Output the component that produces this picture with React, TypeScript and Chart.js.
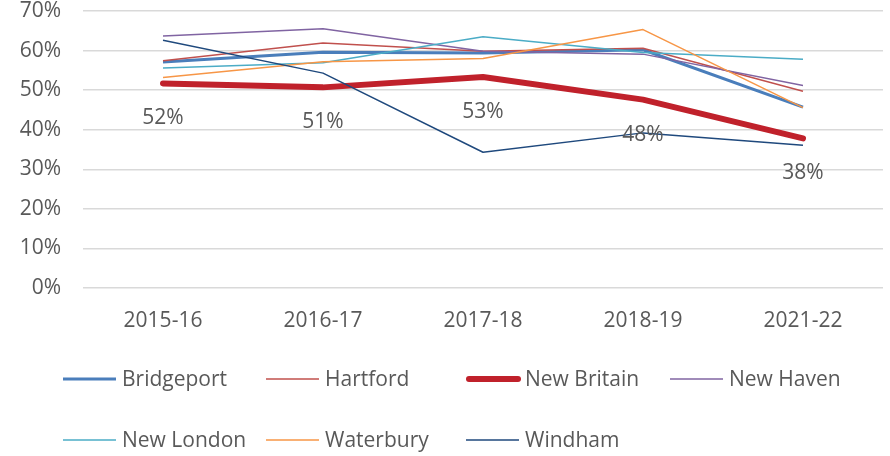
import React, { useEffect, useRef } from "react";
import { Chart, registerables } from "chart.js";

Chart.register(...registerables);

const categories = ["2015-16", "2016-17", "2017-18", "2018-19", "2021-22"];
const seriesNames = ["Bridgeport", "Hartford", "New Britain", "New Haven", "New London", "Waterbury", "Windham"];
const bridgeport = [57.1, 59.6, 59.4, 60.2, 45.7];
const hartford = [57.4, 61.9, 59.8, 60.6, 49.7];
const newBritain = [51.7, 50.7, 53.3, 47.6, 37.8];
const newHaven = [63.7, 65.5, 59.8, 59.1, 51.2];
const newLondon = [55.6, 56.9, 63.5, 59.5, 57.8];
const waterbury = [53.2, 57.2, 58.0, 65.3, 45.6];
const windham = [62.6, 54.3, 34.3, 39.2, 36.1];
const yTicks = [0, 10, 20, 30, 40, 50, 60, 70];

const seriesValues = [bridgeport, hartford, newBritain, newHaven, newLondon, waterbury, windham];
const colors = ["#4A7EBB", "#C0504D", "#C0212B", "#8064A2", "#4BACC6", "#F79646", "#1F497D"];
const widths = [3, 1.5, 6, 1.5, 1.5, 1.5, 1.5];

const FONT = "'Open Sans', sans-serif";
const TEXT = "#595959";

const labelPlugin = {
  id: "nbLabels",
  afterDatasetsDraw(chart: any) {
    const ctx = chart.ctx;
    const meta = chart.getDatasetMeta(2);
    const data = chart.data.datasets[2].data as number[];
    ctx.save();
    ctx.font = `21px ${FONT}`;
    ctx.fillStyle = TEXT;
    ctx.textAlign = "center";
    ctx.textBaseline = "middle";
    meta.data.forEach((pt: any, i: number) => {
      ctx.fillText(Math.round(data[i]) + "%", pt.x, pt.y + 35);
    });
    ctx.restore();
  },
};

const legendPlugin = {
  id: "gridLegend",
  afterDraw(chart: any) {
    const ctx = chart.ctx;
    const cols = [63, 266, 466, 670];
    const rows = [379, 440];
    ctx.save();
    ctx.font = `21px ${FONT}`;
    ctx.textBaseline = "middle";
    ctx.textAlign = "left";
    chart.data.datasets.forEach((ds: any, i: number) => {
      const x = cols[i % 4];
      const y = rows[Math.floor(i / 4)];
      const thick = ds.borderWidth > 4;
      ctx.strokeStyle = ds.borderColor;
      ctx.lineWidth = ds.borderWidth;
      ctx.lineCap = thick ? "round" : "butt";
      ctx.beginPath();
      ctx.moveTo(x + (thick ? 3 : 0), y);
      ctx.lineTo(x + (thick ? 52 : 53), y);
      ctx.stroke();
      ctx.fillStyle = TEXT;
      ctx.fillText(ds.label, x + 59, y + 1);
    });
    ctx.restore();
  },
};

export default function App() {
  const ref = useRef<HTMLCanvasElement>(null);
  useEffect(() => {
    document.body.style.margin = "0";
    const chart = new Chart(ref.current!, {
      type: "line",
      data: {
        labels: categories,
        datasets: seriesNames.map((name, i) => ({
          label: name,
          data: seriesValues[i],
          borderColor: colors[i],
          backgroundColor: colors[i],
          borderWidth: widths[i],
          pointRadius: 0,
          tension: 0,
          fill: false,
          borderCapStyle: i === 2 ? "round" : "butt",
          borderJoinStyle: "round",
          order: 6 - i,
        })),
      },
      options: {
        responsive: false,
        animation: false,
        devicePixelRatio: 1,
        layout: { padding: { top: 11, right: 7, left: 0, bottom: 0 } },
        plugins: { legend: { display: false }, tooltip: { enabled: false } },
        scales: {
          x: {
            offset: true,
            grid: { display: false },
            border: { display: false },
            ticks: { color: TEXT, font: { family: FONT, size: 21 }, padding: 12, maxRotation: 0 },
            afterFit: (s: any) => { s.height = 168; },
          },
          y: {
            min: 0,
            max: 70,
            border: { display: false },
            grid: { color: "#D9D9D9", lineWidth: 1.5, drawTicks: false },
            afterBuildTicks: (s: any) => { s.ticks = yTicks.map((v) => ({ value: v })); },
            ticks: {
              color: TEXT,
              font: { family: FONT, size: 21, lineHeight: 1 },
              padding: 22,
              callback: (v: any) => v + "%",
            },
            afterFit: (s: any) => { s.width = 83; s.paddingTop = 0; s.paddingBottom = 0; },
          },
        },
      },
      plugins: [labelPlugin, legendPlugin],
    } as any);
    return () => chart.destroy();
  }, []);
  return (
    <div style={{ position: "absolute", left: 0, top: 0, width: 890, height: 456 }}>
      <canvas ref={ref} width={890} height={456} style={{ display: "block" }} />
    </div>
  );
}
